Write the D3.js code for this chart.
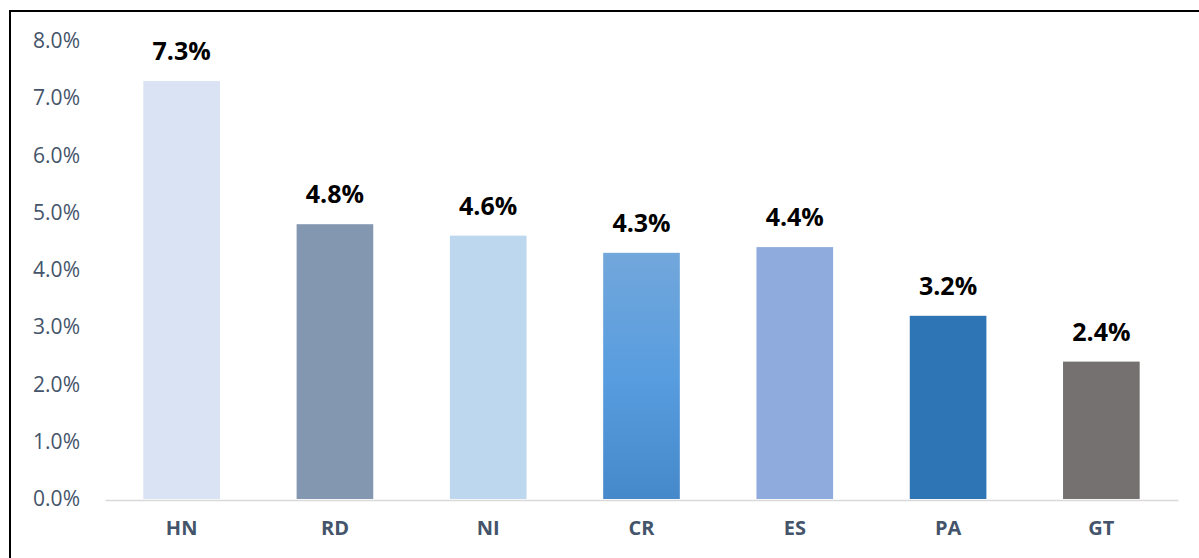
<!DOCTYPE html>
<html>
<head>
<meta charset="utf-8">
<script src="https://cdn.jsdelivr.net/npm/d3@7"></script>
<style>
  body { margin: 0; background: #fff; }
  svg { display: block; }
</style>
</head>
<body>
<div class="chartwrap"></div>
<script>
// data
var categories = ["HN", "RD", "NI", "CR", "ES", "PA", "GT"];
var values = [7.3, 4.8, 4.6, 4.3, 4.4, 3.2, 2.4];
var barcolors = ["#dae3f3", "#8497b0", "#bdd7ee", "url(#crgrad)", "#8faadc", "#2e75b6", "#767171"];
var yticks = [0, 1, 2, 3, 4, 5, 6, 7, 8];

var width = 1199, height = 558;
var margin = {top: 41, left: 105, right: 21, bottom: 59};

var svg = d3.select(".chartwrap").append("svg")
    .attr("width", width)
    .attr("height", height);

// gradient for the CR bar
var grad = svg.append("defs").append("linearGradient")
    .attr("id", "crgrad")
    .attr("x1", 0).attr("y1", 0).attr("x2", 0).attr("y2", 1);
grad.append("stop").attr("offset", "0%").attr("stop-color", "#72a7db");
grad.append("stop").attr("offset", "50%").attr("stop-color", "#589ddf");
grad.append("stop").attr("offset", "100%").attr("stop-color", "#4589cb");

// outer frame (runs off the right and bottom edge)
svg.append("rect")
    .attr("x", 10)
    .attr("y", 11)
    .attr("width", width + 20)
    .attr("height", height + 20)
    .attr("fill", "none")
    .attr("stroke", "#000")
    .attr("stroke-width", 2);

var x = d3.scaleBand()
    .domain(categories)
    .range([margin.left, width - margin.right])
    .paddingInner(0.5)
    .paddingOuter(0.25);

var y = d3.scaleLinear()
    .domain([0, 8])
    .range([height - margin.bottom, margin.top]);

var yAxis = d3.axisLeft(y)
    .tickValues(yticks)
    .tickSize(0)
    .tickPadding(25)
    .tickFormat(function(d) { return d.toFixed(1) + "%"; });

var xAxis = d3.axisBottom(x)
    .tickSize(0)
    .tickPadding(21);

function customYAxis(g) {
    g.call(yAxis);
    g.select(".domain").remove();
    g.selectAll(".tick text")
        .attr("fill", "#44546a")
        .style("font-family", "'Open Sans', sans-serif")
        .style("font-size", "21px");
}

function customXAxis(g) {
    g.call(xAxis);
    g.select(".domain")
        .attr("stroke", "#d9d9d9")
        .attr("stroke-width", 1.5);
    g.selectAll(".tick text")
        .attr("fill", "#44546a")
        .attr("dy", "0.71em")
        .style("font-family", "'Open Sans', sans-serif")
        .style("font-weight", "bold")
        .style("font-size", "20px");
}

svg.append("g")
    .attr("class", "y axis")
    .attr("transform", "translate(" + margin.left + ",0)")
    .call(customYAxis);

svg.append("g")
    .attr("class", "bars")
    .selectAll("rect")
    .data(values)
    .enter().append("rect")
        .attr("x", function(d, i) { return x(categories[i]); })
        .attr("y", function(d) { return y(d); })
        .attr("width", x.bandwidth())
        .attr("height", function(d) { return y(0) - y(d); })
        .attr("fill", function(d, i) { return barcolors[i]; });

svg.append("g")
    .attr("class", "x axis")
    .attr("transform", "translate(0," + (y(0) + 1) + ")")
    .call(customXAxis);

svg.append("g")
    .attr("class", "labels")
    .selectAll("text")
    .data(values)
    .enter().append("text")
        .attr("x", function(d, i) { return x(categories[i]) + x.bandwidth()/2; })
        .attr("y", function(d) { return y(d) - 21; })
        .attr("text-anchor", "middle")
        .attr("fill", "#000")
        .style("font-family", "'Open Sans', sans-serif")
        .style("font-weight", "bold")
        .style("font-size", "25px")
        .text(function(d) { return d.toFixed(1) + "%"; });
</script>
</body>
</html>
